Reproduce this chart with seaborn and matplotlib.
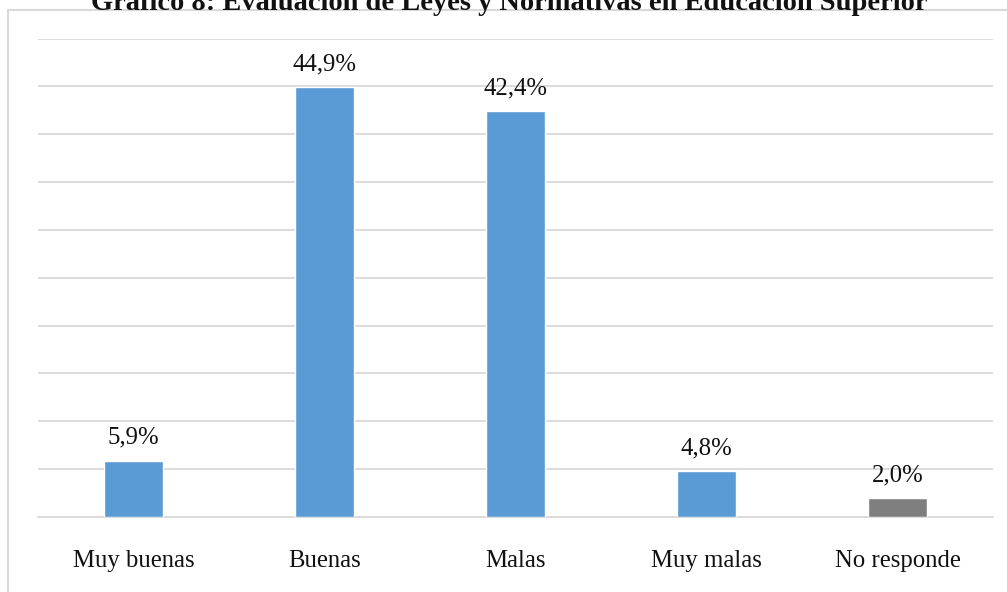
import matplotlib
matplotlib.use("Agg")
import matplotlib.pyplot as plt
import seaborn as sns
import pandas as pd
from matplotlib.patches import Rectangle

categories = ["Muy buenas", "Buenas", "Malas", "Muy malas", "No responde"]
values = [5.9, 44.9, 42.4, 4.8, 2.0]
colors = ["#5B9BD5", "#5B9BD5", "#5B9BD5", "#5B9BD5", "#7F7F7F"]
title = "Gráfico 8: Evaluación de Leyes y Normativas en Educación Superior"

sns.set_theme(style="white")
plt.rcParams["font.family"] = ["Liberation Serif", "DejaVu Serif"]

df = pd.DataFrame({"cat": categories, "val": values})

fig = plt.figure(figsize=(10.07, 5.92), dpi=100)
ax = fig.add_axes([38 / 1007, (592 - 517) / 592, (993 - 38) / 1007, (517 - 38.5) / 592])

sns.barplot(data=df, x="cat", y="val", hue="cat", palette=colors, legend=False,
            width=0.31, ax=ax, saturation=1, zorder=3)

ax.set_ylim(0, 50)
ax.set_xlim(-0.5, 4.5)
ax.set_yticks(range(0, 51, 5))
ax.yaxis.grid(True, color="#d9d9d9", linewidth=1.3, zorder=0)
ax.set_yticklabels([])
ax.tick_params(axis="y", length=0)
ax.tick_params(axis="x", length=0, labelsize=17.8, pad=23.5, colors="#111111")
ax.set_xlabel("")
ax.set_ylabel("")
for s in ["top", "right", "left"]:
    ax.spines[s].set_visible(False)
ax.spines["bottom"].set_color("#d9d9d9")
ax.spines["bottom"].set_linewidth(1.3)

for i, v in enumerate(values):
    ax.annotate(f"{v:.1f}%".replace(".", ","), (i, v), xytext=(0, 12),
                textcoords="offset points", ha="center", va="baseline",
                fontsize=17.8, color="#111111")

fig.patches.append(Rectangle((8 / 1007, -0.1), 1.1, (592 - 10) / 592 + 0.1,
                             transform=fig.transFigure, fill=False,
                             edgecolor="#d9d9d9", linewidth=1.5))

fig.text(0.506, (592 - 10) / 592, title, ha="center", va="baseline",
         fontsize=20.5, fontweight="bold", color="#111111")

fig.savefig("out.png", dpi=100)
